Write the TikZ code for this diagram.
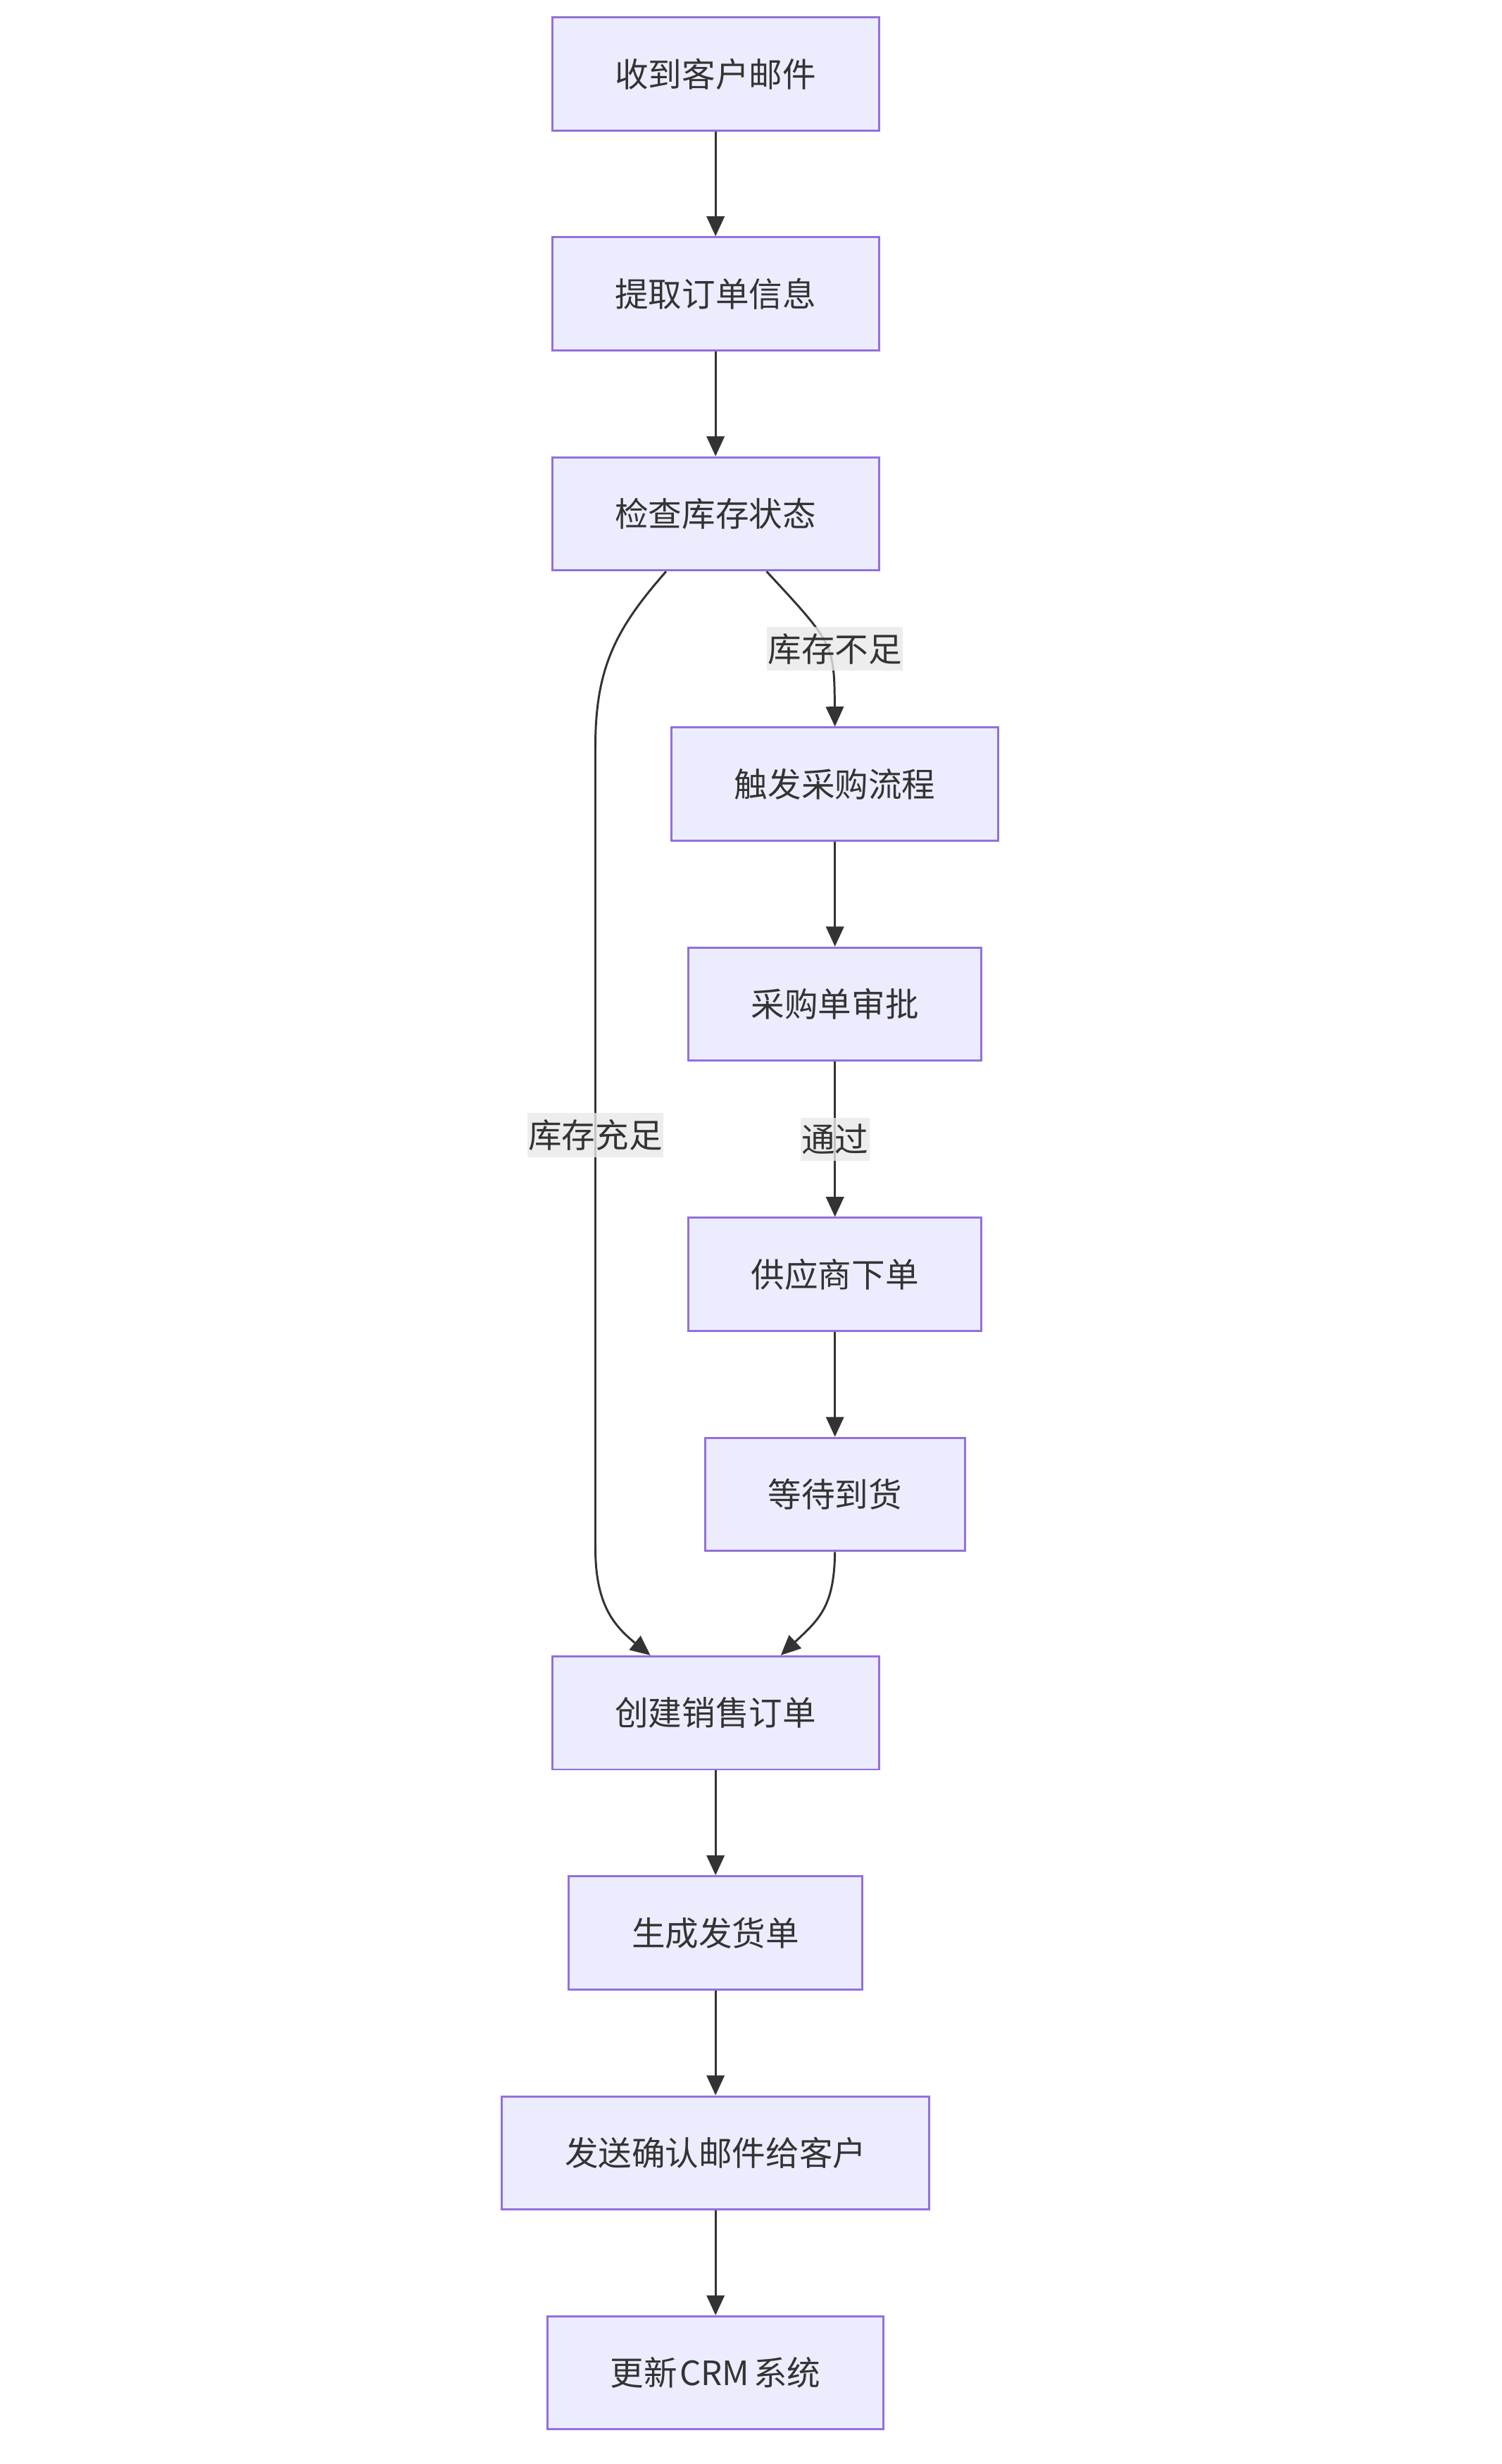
\documentclass[tikz,border=0pt]{standalone}
\usepackage{fontspec}
\newfontfamily\cjkfont{Noto Sans CJK SC}
\usetikzlibrary{arrows.meta,calc}

\definecolor{boxfill}{HTML}{ECECFF}
\definecolor{boxline}{HTML}{9370DB}
\definecolor{inkgray}{HTML}{333333}
\definecolor{lblfill}{HTML}{E8E8E8}

\tikzset{
  proc/.style={draw=boxline,fill=boxfill,line width=1pt,minimum height=54pt,
    inner xsep=30pt,inner ysep=0pt,text=inkgray,font=\cjkfont\fontsize{16}{19}\selectfont},
  flow/.style={draw=inkgray,line width=1pt,-{Triangle[length=9.5pt,width=8.5pt]}},
  lbl/.style={fill=lblfill,fill opacity=0.8,text opacity=1,inner xsep=0.5pt,inner ysep=3pt,
    text=inkgray,font=\cjkfont\fontsize{16}{19}\selectfont}
}

\begin{document}
\begin{tikzpicture}[x=0.75pt,y=0.75pt,yscale=-1]
\useasboundingbox (0,0) rectangle (956,1568);

% main line
\node[proc] (mail) at (455.5,47) {收到客户邮件};
\node[proc] (extract) at (455.5,187) {提取订单信息};
\node[proc] (check) at (455.5,327) {检查库存状态};

% purchase branch
\node[proc] (purchase) at (531.5,499) {触发采购流程};
\node[proc] (approve) at (531.5,639) {采购单审批};
\node[proc] (supplier) at (531.5,811) {供应商下单};
\node[proc] (arrival) at (531.5,951) {等待到货};

% after stock is ok
\node[proc] (salesorder) at (455.5,1090) {创建销售订单};
\node[proc] (delivery) at (455.5,1230) {生成发货单};
\node[proc] (confirm) at (455.5,1370) {发送确认邮件给客户};
\node[proc] (crm) at (455.5,1510) {更新\kern1pt CRM\kern2pt 系统};

% straight edges
\draw[flow] (mail) -- (extract);
\draw[flow] (extract) -- (check);
\draw[flow] (purchase) -- (approve);
\draw[flow] (approve) -- node[lbl] (passlbl) {通过} (supplier);
\draw[flow] (supplier) -- (arrival);
\draw[flow] (salesorder) -- (delivery);
\draw[flow] (delivery) -- (confirm);
\draw[flow] (confirm) -- (crm);

% branch edges
\draw[flow] ($(check.south)+(32.5,0)$) .. controls (531,410) .. (purchase.north);
\node[lbl] (shortlbl) at (531.5,413) {库存不足};

\draw[flow] ($(check.south)+(-31.5,0)$) .. controls (392,400) and (379,425) .. (379,475)
  -- node[lbl,pos=0.485] (oklbl) {库存充足} (379,985)
  .. controls (379,1020) and (390,1034) .. ($(salesorder.north)+(-41.5,0)$);
\draw[flow] (arrival.south) .. controls (531,1022) and (522,1030) .. ($(salesorder.north)+(41.5,0)$);

\end{tikzpicture}
\end{document}
